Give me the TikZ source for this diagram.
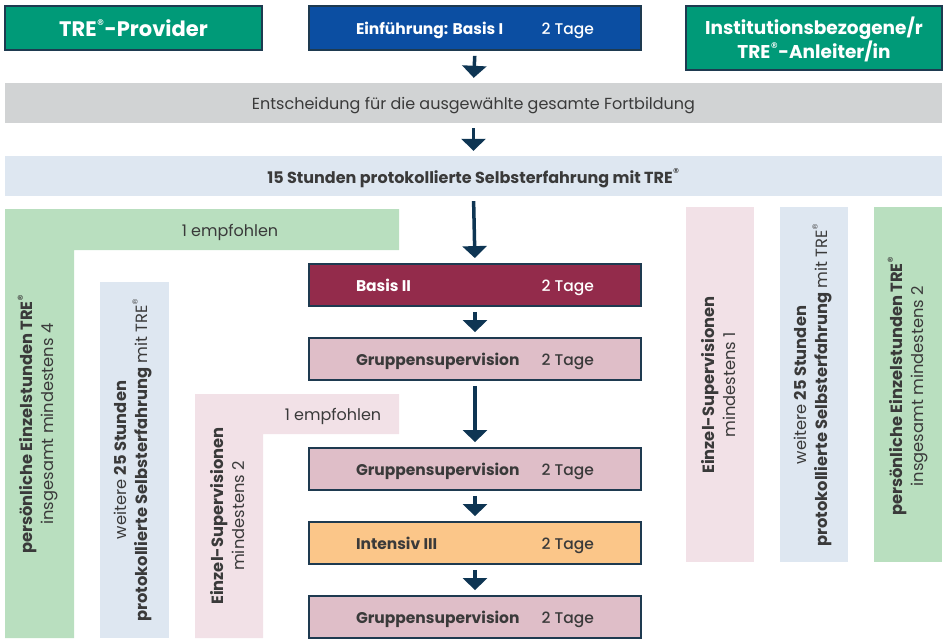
\documentclass[tikz,border=0pt]{standalone}
\usepackage{fontspec}
\setmainfont{Poppins}
\newfontfamily\regfont{DejaVu Sans}
\IfFontExistsTF{Poppins Medium}{\newfontfamily\medfont{Poppins Medium}}{\newcommand{\medfont}{}}
\usetikzlibrary{arrows.meta}
\definecolor{topgreen}{HTML}{009A78}
\definecolor{navyline}{HTML}{1E3A50}
\definecolor{introblue}{HTML}{0B4EA2}
\definecolor{graybar}{HTML}{D1D3D4}
\definecolor{lightblue}{HTML}{DEE7F1}
\definecolor{lightgreen}{HTML}{B9DFBF}
\definecolor{lightpink}{HTML}{F2E1E7}
\definecolor{wine}{HTML}{932B4B}
\definecolor{rosebox}{HTML}{DFBEC8}
\definecolor{orangebox}{HTML}{FBC689}
\definecolor{arrownavy}{HTML}{0E3553}
\definecolor{textdark}{HTML}{3A3A3A}
\newcommand{\regmark}{\raisebox{0.55em}{\regfont\fontsize{8}{8}\selectfont ®}}
\newcommand{\regsmall}{\raisebox{0.6em}{\regfont\fontsize{7}{7}\selectfont ®}}
\tikzset{
  topbox/.style={draw=navyline, line width=1.8pt, fill=topgreen, text=white, inner sep=0pt, text depth=0pt,
    font=\fontsize{21}{24}\selectfont\bfseries, align=center},
  stagebox/.style={draw=navyline, line width=1.8pt, minimum width=332pt, minimum height=42pt, inner sep=0pt, text depth=0pt,
    font=\fontsize{15.5}{18}\selectfont\bfseries},
  bar/.style={minimum width=937pt, minimum height=40pt, inner sep=0pt, text=textdark, text depth=0pt,
    font=\fontsize{16}{19}\selectfont},
  flowarrow/.style={draw=arrownavy, line width=3.5pt, -{Triangle[width=24pt,length=12pt]}, shorten <=5pt, shorten >=5pt},
  vtext/.style={rotate=90, align=center, text=textdark, font=\fontsize{16.3}{21}\selectfont, inner sep=0pt},
  recnote/.style={text=textdark, font=\fontsize{16}{19}\selectfont, inner sep=0pt}
}
\newcommand{\stagetext}[2]{\makebox[238pt]{#1\hfill{\medfont\mdseries #2}}}
\begin{document}
\begin{tikzpicture}[x=1pt,y=-1pt]
\useasboundingbox (0,0) rectangle (945,638);
% background side shapes
\fill[lightgreen] (5,209) -- (399,209) -- (399,250) -- (74,250) -- (74,638) -- (5,638) -- cycle;
\fill[lightblue] (100,282) rectangle (169,638);
\fill[lightpink] (195,394) -- (399,394) -- (399,434) -- (263,434) -- (263,638) -- (195,638) -- cycle;
\fill[lightpink] (686,207) rectangle (754,562);
\fill[lightblue] (780,207) rectangle (848,562);
\fill[lightgreen] (874,207) rectangle (942,562);
% top row
\node[topbox, minimum width=257pt, minimum height=44pt] (prov) at (133.5,28) {TRE\regmark-Provider};
\node[stagebox, fill=introblue, text=white, minimum height=44pt] (intro) at (475,28) {\stagetext{Einführung: Basis I}{2 Tage}};
\node[topbox, minimum width=256pt, minimum height=64pt, font=\fontsize{18.5}{24}\selectfont\bfseries] (inst) at (814,38) {Institutionsbezogene/r\\TRE\regmark-Anleiter/in};
% bars
\node[bar, fill=graybar] (decide) at (473.5,103) {Entscheidung für die ausgewählte gesamte Fortbildung};
\node[bar, fill=lightblue, font=\fontsize{16}{19}\selectfont\bfseries] (self) at (473.5,176) {15 Stunden protokollierte Selbsterfahrung mit TRE\regsmall};
% stages
\node[stagebox, fill=wine, text=white] (basis) at (475,285) {\stagetext{Basis II}{2 Tage}};
\node[stagebox, fill=rosebox, text=textdark] (grpA) at (475,359) {\stagetext{Gruppensupervision}{2 Tage}};
\node[stagebox, fill=rosebox, text=textdark] (grpB) at (475,469) {\stagetext{Gruppensupervision}{2 Tage}};
\node[stagebox, fill=orangebox, text=textdark] (intens) at (475,543) {\stagetext{Intensiv III}{2 Tage}};
\node[stagebox, fill=rosebox, text=textdark] (grpC) at (475,617) {\stagetext{Gruppensupervision}{2 Tage}};
% arrows
\draw[flowarrow] (intro.south) -- (decide.north);
\draw[flowarrow] (decide.south) -- (self.north);
\draw[flowarrow] (self.south) -- (basis.north);
\draw[flowarrow] (basis.south) -- (grpA.north);
\draw[flowarrow] (grpA.south) -- (grpB.north);
\draw[flowarrow] (grpB.south) -- (intens.north);
\draw[flowarrow] (intens.south) -- (grpC.north);
% labels
\node[recnote] (recA) at (230,232) {1 empfohlen};
\node[recnote] (recB) at (333,416) {1 empfohlen};
\node[vtext] (leftgreen) at (38,424) {\textbf{persönliche Einzelstunden TRE\regsmall}\\insgesamt mindestens 4};
\node[vtext] (leftblue) at (133,460) {weitere \textbf{25 Stunden}\\\textbf{protokollierte Selbsterfahrung} mit TRE\regsmall};
\node[vtext] (leftpink) at (228,516) {\textbf{Einzel-Supervisionen}\\mindestens 2};
\node[vtext] (rightpink) at (719,385) {\textbf{Einzel-Supervisionen}\\mindestens 1};
\node[vtext] (rightblue) at (813,385) {weitere \textbf{25 Stunden}\\\textbf{protokollierte Selbsterfahrung} mit TRE\regsmall};
\node[vtext] (rightgreen) at (908,386) {\textbf{persönliche Einzelstunden TRE\regsmall}\\insgesamt mindestens 2};
\end{tikzpicture}
\end{document}
